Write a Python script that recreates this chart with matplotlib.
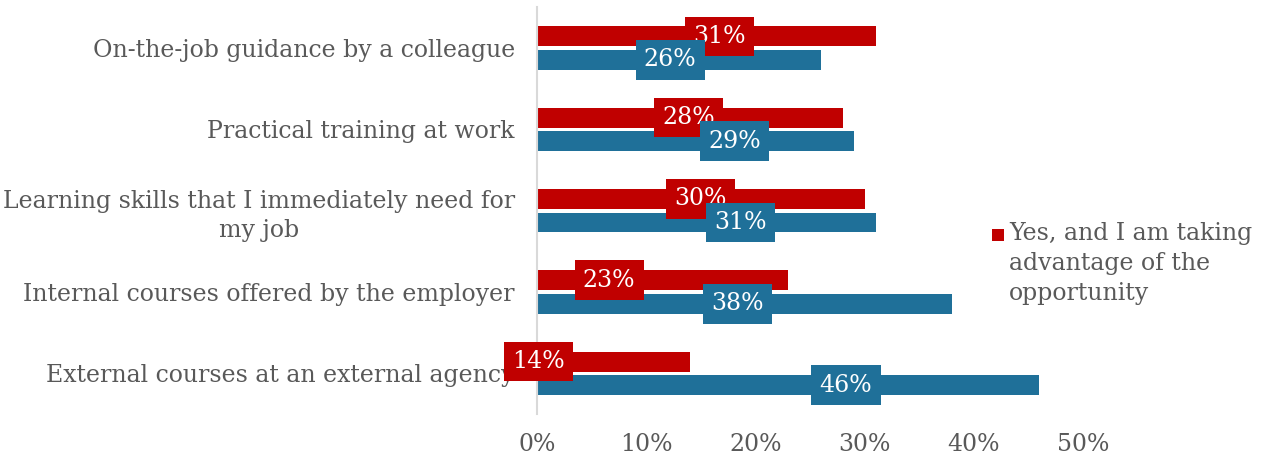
import matplotlib
matplotlib.use("Agg")
import matplotlib.pyplot as plt
from matplotlib.patches import Rectangle

categories = [
    "On-the-job guidance by a colleague",
    "Practical training at work",
    "Learning skills that I immediately need for\nmy job",
    "Internal courses offered by the employer",
    "External courses at an external agency",
]
taking = [31, 28, 30, 23, 14]
available = [26, 29, 31, 38, 46]
legend_label = "Yes, and I am taking\nadvantage of the\nopportunity"
xticks = [0, 10, 20, 30, 40, 50]

# horizontal placement of the value boxes along each bar (percent units)
taking_label_x = [16.7, 13.9, 15.0, 6.6, 0.1]
available_label_x = [12.2, 18.1, 18.6, 18.4, 28.3]

RED = "#C00000"
BLUE = "#1F7099"
GREY = "#595959"
SERIF = ["DejaVu Serif"]
FS = 17

fig = plt.figure(figsize=(12.64, 4.59), dpi=100)
ax = fig.add_axes([537 / 1264, 1 - 414 / 459, (1083 - 537) / 1264, (414 - 7.5) / 459])

n = len(categories)
ypos = list(range(n))
h = 0.245
off = 0.145
ax.barh([y - off for y in ypos], taking, height=h, color=RED, zorder=2)
ax.barh([y + off for y in ypos], available, height=h, color=BLUE, zorder=2)

box = dict(boxstyle="square,pad=0.35", linewidth=0)
for i in range(n):
    ax.text(taking_label_x[i], i - off, f"{taking[i]}%", ha="center", va="center",
            color="white", fontsize=FS, family=SERIF, zorder=4,
            bbox=dict(box, facecolor=RED))
    ax.text(available_label_x[i], i + off, f"{available[i]}%", ha="center", va="center",
            color="white", fontsize=FS, family=SERIF, zorder=5,
            bbox=dict(box, facecolor=BLUE))

ax.set_ylim(n - 0.5, -0.5)
ax.set_xlim(0, 50)
ax.set_yticks(ypos)
ax.set_yticklabels(categories, family=SERIF, fontsize=FS, color=GREY,
                   multialignment="center", linespacing=1.3)
ax.set_xticks(xticks)
ax.set_xticklabels([f"{t}%" for t in xticks], family=SERIF, fontsize=FS, color=GREY)
ax.tick_params(axis="y", length=0, pad=16)
ax.tick_params(axis="x", length=0, pad=14)
for side in ("top", "right", "bottom"):
    ax.spines[side].set_visible(False)
ax.spines["left"].set_color("#D9D9D9")
ax.spines["left"].set_linewidth(1.5)

# legend: one swatch beside the first line of the wrapped series name
fig.add_artist(Rectangle((992 / 1264, 1 - 241 / 459), 12 / 1264, 12 / 459,
                         transform=fig.transFigure, facecolor=RED, linewidth=0))
fig.text(1009 / 1264, 1 - 222 / 459, legend_label, ha="left", va="top",
         family=SERIF, fontsize=FS, color=GREY, linespacing=1.4)

fig.savefig("out.png", dpi=100)
